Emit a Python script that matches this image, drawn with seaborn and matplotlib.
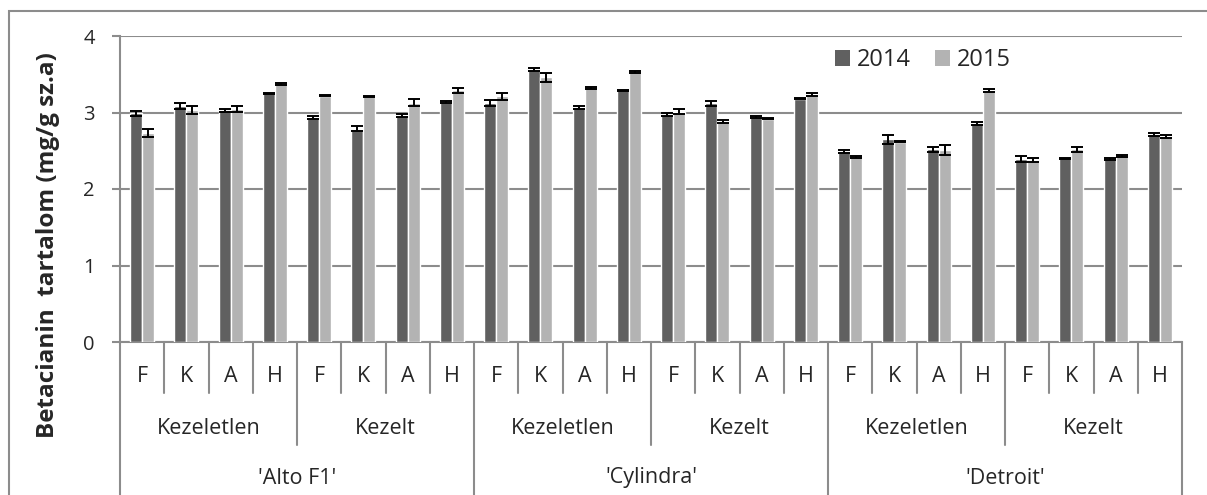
import matplotlib
matplotlib.use("Agg")
import matplotlib.pyplot as plt
import matplotlib.transforms as mtransforms
from matplotlib.patches import Rectangle, Patch
import pandas as pd
import seaborn as sns

# ---- data ----
varieties = ["'Alto F1'", "'Cylindra'", "'Detroit'"]
treatments = ["Kezeletlen", "Kezelt"]
parts = ["F", "K", "A", "H"]
years = ["2014", "2015"]

values_2014 = [2.99, 3.09, 3.03, 3.25, 2.94, 2.79, 2.96, 3.14,
               3.12, 3.56, 3.07, 3.29, 2.97, 3.12, 2.94, 3.18,
               2.49, 2.65, 2.52, 2.86, 2.39, 2.40, 2.39, 2.71]
values_2015 = [2.73, 3.03, 3.05, 3.37, 3.22, 3.21, 3.13, 3.29,
               3.21, 3.46, 3.32, 3.53, 3.01, 2.88, 2.92, 3.23,
               2.42, 2.62, 2.51, 3.29, 2.38, 2.52, 2.43, 2.69]
err_2014 = [0.03, 0.04, 0.02, 0.01, 0.02, 0.03, 0.02, 0.01,
            0.04, 0.02, 0.02, 0.01, 0.02, 0.03, 0.01, 0.01,
            0.02, 0.06, 0.03, 0.02, 0.04, 0.01, 0.01, 0.02]
err_2015 = [0.05, 0.05, 0.04, 0.01, 0.01, 0.01, 0.05, 0.03,
            0.05, 0.06, 0.01, 0.01, 0.03, 0.02, 0.01, 0.02,
            0.01, 0.01, 0.06, 0.02, 0.03, 0.03, 0.01, 0.02]

colors = {"2014": "#606060", "2015": "#b3b3b3"}
grid_col = "#8c8c8c"

# ---- long table ----
keys = [f"{v}|{t}|{p}" for v in varieties for t in treatments for p in parts]
rows = []
for yr, vals in zip(years, [values_2014, values_2015]):
    for k, val in zip(keys, vals):
        rows.append({"key": k, "year": yr, "value": val})
df = pd.DataFrame(rows)

sns.set_style("white")
plt.rcParams["font.family"] = ["Open Sans", "DejaVu Sans"]

W, H = 1207, 495
fig = plt.figure(figsize=(W / 100, H / 100), dpi=100)
left_px, right_px, top_px, bot_px = 120, 1182, 36, 342
ax = fig.add_axes([left_px / W, 1 - bot_px / H,
                   (right_px - left_px) / W, (bot_px - top_px) / H])

sns.barplot(data=df, x="key", y="value", hue="year", order=keys,
            hue_order=years, palette=colors, width=0.54, gap=0,
            errorbar=None, saturation=1, ax=ax, legend=False, zorder=3)

# error bars on bar tops
for cont, errs in zip(ax.containers, [err_2014, err_2015]):
    xs = [b.get_x() + b.get_width() / 2 for b in cont]
    ys = [b.get_height() for b in cont]
    ax.errorbar(xs, ys, yerr=errs, fmt="none", ecolor="black",
                elinewidth=1.4, capsize=4, capthick=1.4, zorder=4)

ax.set_xlim(-0.5, len(keys) - 0.5)
ax.set_ylim(0, 4)
ax.set_yticks([0, 1, 2, 3, 4])
ax.yaxis.grid(True, color=grid_col, linewidth=1.5, zorder=0)
ax.set_axisbelow(True)
for s in ["top", "right"]:
    ax.spines[s].set_visible(False)
for s in ["left", "bottom"]:
    ax.spines[s].set_color(grid_col)
    ax.spines[s].set_linewidth(1.5)
ax.tick_params(axis="y", direction="out", length=6, width=1.5,
               color=grid_col, labelsize=14.5, pad=12, left=True)
ax.set_xticks([])
ax.set_xlabel("")
ax.set_ylabel("")

fy = lambda px: 1 - px / H
fig.text(48 / W, fy(245), "Betacianin  tartalom (mg/g sz.a)", rotation=90,
         ha="center", va="center", fontsize=17.5, fontweight="bold")

# ---- multi-level category axis ----
tr = mtransforms.blended_transform_factory(ax.transData, fig.transFigure)
n = len(keys)
line_kw = dict(color=grid_col, linewidth=1.5, clip_on=False, transform=tr)
for i in range(n + 1):
    x = i - 0.5
    if i % 8 == 0:
        y_end = 500
    elif i % 4 == 0:
        y_end = 445
    else:
        y_end = 393
    ax.plot([x, x], [fy(bot_px), fy(y_end)], **line_kw)

lab_fs = 15.5
for i, k in enumerate(keys):
    ax.text(i, fy(377), k.split("|")[2], ha="center", va="center",
            fontsize=lab_fs, transform=tr)
for j in range(len(varieties) * len(treatments)):
    ax.text(j * 4 + 1.5, fy(429), treatments[j % 2], ha="center",
            va="center", fontsize=lab_fs, transform=tr)
for j, v in enumerate(varieties):
    ax.text(j * 8 + 3.5, fy(478), v, ha="center", va="center",
            fontsize=lab_fs, transform=tr)

# ---- legend ----
handles = [Patch(facecolor=colors[y], edgecolor="none") for y in years]
ax.legend(handles, years, loc="center left", bbox_to_anchor=(835 / W, fy(60)),
          bbox_transform=fig.transFigure, ncol=2, frameon=False,
          fontsize=17, handlelength=0.64, handleheight=0.64,
          handletextpad=0.3, columnspacing=1.0, borderaxespad=0,
          borderpad=0)

# outer chart frame
fig.patches.append(Rectangle((9 / W, -0.1), 1.2, fy(11) + 0.1,
                             transform=fig.transFigure, fill=False,
                             edgecolor=grid_col, linewidth=1.5))

fig.savefig("out.png", dpi=100)
